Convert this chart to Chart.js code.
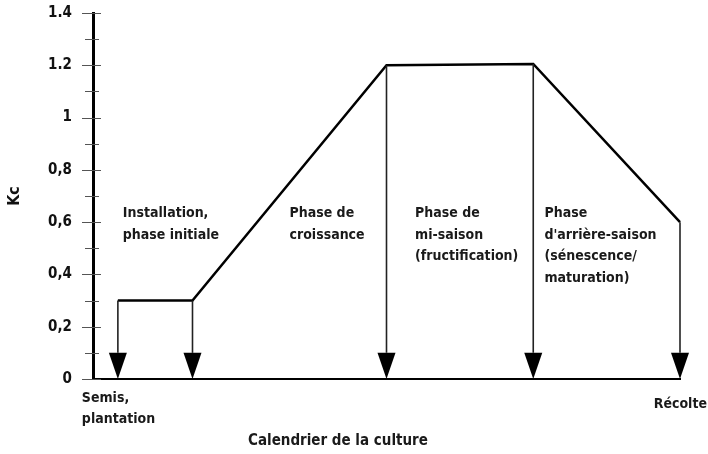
<!DOCTYPE html>
<html>
<head>
<meta charset="utf-8">
<script src="https://cdn.jsdelivr.net/npm/chart.js@4"></script>
<style>
  body { margin: 0; background: #fff; }
  #wrap { width: 708px; height: 454px; }
</style>
</head>
<body>
<div id="wrap"><canvas id="kcChart" width="708" height="454"></canvas></div>
<script>
// courbe Kc (jours fictifs depuis le semis)
var days = [0, 30, 108, 167, 226];
var kc = [0.3, 0.3, 1.2, 1.205, 0.6];
var yTickLabels = ['0', '0,2', '0,4', '0,6', '0,8', '1', '1.2', '1.4'];
var phaseLabels = [
    ['Installation,', 'phase initiale'],
    ['Phase de', 'croissance'],
    ['Phase de', 'mi-saison', '(fructification)'],
    ['Phase', "d'arrière-saison", '(sénescence/', 'maturation)']
];
var startLabel = ['Semis,', 'plantation'];
var endLabel = 'Récolte';
var xTitle = 'Calendrier de la culture';

var FONT = '"Liberation Sans Narrow", "DejaVu Sans Condensed", "Arial Narrow", sans-serif';

var decor = {
    id: 'decor',
    afterDraw: function (chart) {
        var ctx = chart.ctx;
        var xs = chart.scales.x, ys = chart.scales.y;
        var left = chart.chartArea.left;
        ctx.save();

        // graduations
        ctx.strokeStyle = '#555';
        ctx.lineWidth = 1;
        for (var v = 0; v <= 1.4001; v += 0.1) {
            var py = Math.round(ys.getPixelForValue(v)) + 0.5;
            var major = Math.round(v * 10) % 2 === 0;
            ctx.beginPath();
            ctx.moveTo(left - (major ? 11 : 8), py);
            ctx.lineTo(left + (major ? 8 : 6), py);
            ctx.stroke();
        }

        // flèches verticales
        var y0 = ys.getPixelForValue(0);
        var yHead = ys.getPixelForValue(0.1);
        days.forEach(function (d, i) {
            var px = xs.getPixelForValue(d);
            var py = ys.getPixelForValue(kc[i]);
            ctx.strokeStyle = '#222';
            ctx.lineWidth = 1.6;
            ctx.beginPath();
            ctx.moveTo(px, py);
            ctx.lineTo(px, yHead);
            ctx.stroke();
            ctx.fillStyle = '#000';
            ctx.beginPath();
            ctx.moveTo(px - 9, yHead);
            ctx.lineTo(px + 9, yHead);
            ctx.lineTo(px, y0);
            ctx.closePath();
            ctx.fill();
        });

        // textes
        ctx.fillStyle = '#1a1a1a';
        ctx.font = 'bold 14px ' + FONT;
        ctx.textBaseline = 'middle';
        ctx.textAlign = 'left';
        var phaseX = [2, 69, 119.5, 171.5];
        var topY = ys.getPixelForValue(0.64) + 2;
        phaseLabels.forEach(function (lines, i) {
            var px = xs.getPixelForValue(phaseX[i]);
            lines.forEach(function (t, j) {
                ctx.fillText(t, px, topY + j * 21.5);
            });
        });

        var sx = xs.getPixelForValue(days[0]) - 36;
        startLabel.forEach(function (t, j) {
            ctx.fillText(t, sx, y0 + 19 + j * 21);
        });
        ctx.textAlign = 'right';
        ctx.fillText(endLabel, chart.width - 1, y0 + 25);

        ctx.textAlign = 'left';
        ctx.font = 'bold 15px ' + FONT;
        ctx.fillText(xTitle, 248, y0 + 62);
        ctx.restore();
    }
};

var ctxK = document.getElementById('kcChart').getContext('2d');
var kcChart = new Chart(ctxK, {
    type: 'line',
    data: {
        datasets: [{
            data: days.map(function (d, i) { return { x: d, y: kc[i] }; }),
            borderColor: '#000',
            borderWidth: 2.5,
            pointRadius: 0,
            tension: 0,
            clip: false
        }]
    },
    options: {
        responsive: false,
        animation: false,
        layout: { padding: { top: 13, right: 28, left: 0, bottom: 0 } },
        plugins: { legend: { display: false }, tooltip: { enabled: false } },
        scales: {
            x: {
                type: 'linear',
                min: -10,
                max: 226,
                grid: { display: false, drawTicks: false },
                ticks: { display: false },
                border: { display: true, color: '#000', width: 2 },
                afterFit: function (s) { s.height = 75; s.paddingLeft = 0; s.paddingRight = 0; }
            },
            y: {
                min: 0,
                max: 1.4,
                afterBuildTicks: function (s) {
                    s.ticks = yTickLabels.map(function (l, i) { return { value: i * 0.2 }; });
                },
                ticks: {
                    padding: 21,
                    color: '#111',
                    font: { family: FONT, size: 15, weight: 'bold' },
                    callback: function (v, i) { return yTickLabels[i]; }
                },
                grid: { display: false, drawTicks: false },
                border: { display: true, color: '#000', width: 3 },
                title: {
                    display: true,
                    text: 'Kc',
                    color: '#111',
                    font: { family: FONT, size: 16, weight: 'bold' },
                    padding: { top: 5, bottom: 0 }
                },
                afterFit: function (s) { s.width = 93; s.paddingTop = 0; s.paddingBottom = 0; }
            }
        }
    },
    plugins: [decor]
});
</script>
</body>
</html>
